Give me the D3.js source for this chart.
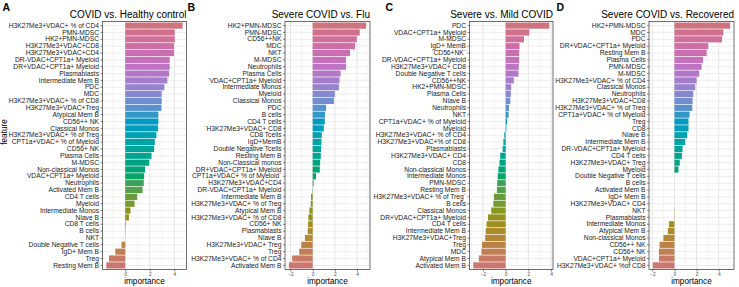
<!DOCTYPE html>
<html>
<head>
<meta charset="utf-8">
<script src="https://cdn.jsdelivr.net/npm/d3@7"></script>
<style>
  body { margin: 0; background: #fff; }
  svg { display: block; font-family: "Liberation Sans", Arial, sans-serif; }
</style>
</head>
<body>
<svg width="739" height="287"></svg>
<script>
// Panel A: COVID vs. Healthy control
var featuresA = ["H3K27Me3+VDAC+ % of CD4", "PMN-MDSC", "HK2+PMN-MDSC", "H3K27Me3+VDAC+CD8", "H3K27Me3+VDAC+CD4",
  "DR-VDAC+CPT1a+ Myeloid", "DR+VDAC+CPT1a+ Myeloid", "Plasmablasts", "Intermediate Mem B", "PDC", "MDC",
  "H3K27Me3+VDAC+ % of CD8", "H3K27Me3+VDAC+Treg", "Atypical Mem B", "CD56++ NK", "Classical Monos",
  "H3K27Me3+VDAC+ % of Treg", "CPT1a+VDAC+ % of Myeloid", "CD56+ NK", "Plasma Cells", "M-MDSC",
  "Non-classical Monos", "VDAC+CPT1a+ Myeloid", "Neutrophils", "Activated Mem B", "CD4 T cells", "Myeloid",
  "Intermediate Monos", "Niave B", "CD8 T cells", "B cells", "NKT", "Double Negative T cells", "IgD+ Mem B",
  "Treg", "Resting Mem B"];
var importanceA = [4.68, 4.03, 4.03, 3.97, 3.97, 3.62, 3.62, 3.57, 3.43, 3.19, 2.97, 2.97, 2.95, 2.70, 2.70, 2.68,
  2.54, 2.41, 2.35, 2.14, 1.95, 1.62, 1.54, 1.51, 1.41, 0.97, 0.76, 0.43, 0.30, 0.05, 0.03, 0.01, -0.30, -0.81,
  -1.32, -1.54];

// Panel B: Severe COVID vs. Flu
var featuresB = ["HK2+PMN-MDSC", "PMN-MDSC", "CD56++NK", "MDC", "NKT", "M-MDSC", "Neutrophils", "Plasma Cells",
  "`VDAC+CPT1a+ Myeloid", "Intermediate Monos", "Myeloid", "Classical Monos", "PDC", "B cells", "CD4 T cells",
  "`H3K27Me3+VDAC+ CD8", "CD8 Tcells", "IgD+MemB", "Double Negative Tcells", "Resting Mem B",
  "Non-Classical  monos", "DR+VDAC+CPT1a+ Myeloid", "CPT1a+VDAC+ % of Myeloid`", "H3K27Me3+VDAC+CD4",
  "DR-VDAC+CPT1a+ Myeloid", "Intermediate Mem B", "H3K27Me3+VDAC+ % of Treg", "Atypical Mem B",
  "H3K27Me3+VDAC+ % of CD8", "CD56+ NK", "Plasmablasts", "Niave B", "H3K27Me3+VDAC+ Treg", "Treg",
  "H3K27Me3+VDAC+ % of CD4", "Activated Mem B"];
var importanceB = [4.82, 4.24, 3.97, 3.82, 3.36, 3.0, 3.0, 2.52, 2.42, 2.36, 2.0, 1.91, 1.21, 1.12, 1.09, 1.0,
  0.82, 0.79, 0.76, 0.73, 0.67, 0.64, 0.30, 0.09, 0.03, -0.15, -0.18, -0.30, -0.39, -0.42, -0.45, -0.70, -1.03,
  -1.21, -1.85, -2.15];

// Panel C: Severe vs. Mild COVID
var featuresC = ["PDC", "VDAC+CPT1a+ Myeloid", "M-MDSC", "IgD+ MemB", "`CD56+NK`", "DR-VDAC+CPT1a+ Myeloid",
  "H3K27Me3+VDAC+ CD8", "Double Negative T cells", "CD56++NK", "HK2+PMN-MDSC", "Plasma Cells", "Niave B",
  "Neutrophils", "NKT", "CPT1a+VDAC+ % of Myeloid", "Myeloid", "H3K27Me3+VDAC+ % of CD4",
  "H3K27Me3+VDAC+% of CD8", "Plasmablasts", "H3K27Me3+VDAC+ CD4", "CD8", "Non-classical Monos",
  "Intermediate Monos", "PMN-MDSC", "Resting Mem B", "H3K27Me3+VDAC+ % of Treg`", "B cells", "Classical Monos",
  "DR+VDAC+CPT1a+ Myeloid", "CD4 T cells", "Intermediate Mem B", "H3K27Me3+VDAC+Treg", "Treg", "MDC",
  "Atypical Mem B", "Activated Mem B"];
var importanceC = [3.84, 2.09, 1.62, 1.22, 1.19, 1.19, 1.16, 1.13, 0.72, 0.49, 0.46, 0.41, 0.29, 0.26, 0.12, 0.06,
  -0.12, -0.20, -0.26, -0.48, -0.54, -0.64, -0.70, -0.74, -0.77, -1.03, -1.08, -1.27, -1.55, -1.68, -1.75, -1.80,
  -2.08, -2.13, -2.36, -2.85];

// Panel D: Severe COVID vs. Recovered
var featuresD = ["HK2+PMN-MDSC", "MDC", "PDC", "DR+VDAC+CPT1a+ Myeloid", "Resting Mem B", "Plasma Cells",
  "PMN-MDSC", "M-MDSC", "H3K27Me3+VDAC+ % of CD4", "Classical Monos", "Neutrophils", "H3K27Me3+VDAC+CD8",
  "H3K27Me3+VDAC+ % of Treg", "CPT1a+VDAC+ % of Myeloid", "Treg", "CD8", "Niave B", "Intermediate Mem B",
  "DR-VDAC+CPT1a+ Myeloid", "CD4 T cells", "H3K27Me3+VDAC+ Treg", "Myeloid", "Double Negative T cells",
  "B cells", "Activated Mem B", "IgD+ Mem B", "H3K27Me3+VDAC+ CD4", "NKT", "Plasmablasts", "Intermediate Monos",
  "Atypical Mem B", "Non-classical Monos", "CD56++ NK", "CD56+ NK", "VDAC+CPT1a+ Myeloid",
  "H3K27Me3+VDAC+ %of CD8"];
var importanceD = [5.03, 4.42, 4.30, 3.06, 2.91, 2.58, 2.45, 2.24, 2.0, 1.88, 1.70, 1.64, 1.61, 1.36, 1.27, 1.27,
  1.15, 0.97, 0.73, 0.67, 0.48, 0.36, 0, 0, 0, 0, 0, 0.02, -0.03, -0.50, -0.60, -1.0, -1.34, -1.40, -1.40, -1.95];

var titles = ["COVID vs. Healthy control", "Severe COVID vs. Flu", "Severe vs. Mild COVID", "Severe COVID vs. Recovered"];
var letters = ["A", "B", "C", "D"];

var panels = [
  {features: featuresA, values: importanceA, left: 102.5, right: 186.5, tag: 2.5, yTitle: true},
  {features: featuresB, values: importanceB, left: 285, right: 370, tag: 187.5},
  {features: featuresC, values: importanceC, left: 469.5, right: 553, tag: 385.5},
  {features: featuresD, values: importanceD, left: 649, right: 734, tag: 556.5}
];

// polar LUV -> hex, the way R's hcl() builds the default hue palette
function hclLuv(h, c, l) {
  var hr = h * Math.PI / 180,
    u = c * Math.cos(hr), v = c * Math.sin(hr);
  var xn = 95.047, yn = 100, zn = 108.883,
    un = 4 * xn / (xn + 15 * yn + 3 * zn), vn = 9 * yn / (xn + 15 * yn + 3 * zn);
  var Y = l > 8 ? Math.pow((l + 16) / 116, 3) : l / 903.3;
  var up = u / (13 * l) + un, vp = v / (13 * l) + vn;
  var X = Y * 9 * up / (4 * vp), Z = Y * (12 - 3 * up - 20 * vp) / (4 * vp);
  var lin = [
    3.2406 * X - 1.5372 * Y - 0.4986 * Z,
    -0.9689 * X + 1.8758 * Y + 0.0415 * Z,
    0.0557 * X - 0.2040 * Y + 1.0570 * Z
  ];
  var rgb = lin.map(function(t) {
    t = t <= 0.0031308 ? 12.92 * t : 1.055 * Math.pow(t, 1 / 2.4) - 0.055;
    return Math.max(0, Math.min(255, Math.round(t * 255)));
  });
  return d3.rgb(rgb[0], rgb[1], rgb[2]).formatHex();
}

var svg = d3.select("svg"),
  plotTop = 21.5,
  plotBottom = 269.5;

panels.forEach(function(p, k) {
  var n = p.features.length;
  var ext = d3.extent(p.values),
    pad = (ext[1] - ext[0]) * 0.05;

  var xScale = d3.scaleLinear().domain([ext[0] - pad, ext[1] + pad]).range([p.left, p.right]);
  var yScale = d3.scaleBand().domain(p.features).range([plotTop, plotBottom]).paddingInner(0.1).paddingOuter(0.15);

  // hue palette, first level at the bottom
  var colour = function(i) {
    return hclLuv(15 + 360 * (n - 1 - i) / n, 62, 59);
  };

  var g = svg.append("g");

  // grid: majors on even numbers, minors in between
  var lo = Math.ceil(xScale.domain()[0]), hi = Math.floor(xScale.domain()[1]);
  var majors = d3.range(lo, hi + 1).filter(t => t % 2 == 0);
  var minors = d3.range(lo, hi + 1).filter(t => Math.abs(t % 2) == 1);

  g.selectAll(".minor").data(minors).enter().append("line")
    .attr("x1", d => xScale(d)).attr("x2", d => xScale(d))
    .attr("y1", plotTop).attr("y2", plotBottom)
    .attr("stroke", "#ececec").attr("stroke-width", 0.6);
  g.selectAll(".major").data(majors).enter().append("line")
    .attr("x1", d => xScale(d)).attr("x2", d => xScale(d))
    .attr("y1", plotTop).attr("y2", plotBottom)
    .attr("stroke", "#e4e4e4").attr("stroke-width", 1);
  g.selectAll(".hgrid").data(p.features).enter().append("line")
    .attr("x1", p.left).attr("x2", p.right)
    .attr("y1", d => yScale(d) + yScale.bandwidth() / 2)
    .attr("y2", d => yScale(d) + yScale.bandwidth() / 2)
    .attr("stroke", "#e8e8e8").attr("stroke-width", 0.8);

  // bars
  g.selectAll(".bar").data(p.values).enter().append("rect")
    .attr("x", d => xScale(Math.min(0, d)))
    .attr("y", (d, i) => yScale(p.features[i]))
    .attr("width", d => Math.abs(xScale(d) - xScale(0)))
    .attr("height", yScale.bandwidth())
    .attr("fill", (d, i) => colour(i));

  // border
  g.append("rect")
    .attr("x", p.left).attr("y", plotTop)
    .attr("width", p.right - p.left).attr("height", plotBottom - plotTop)
    .attr("fill", "none").attr("stroke", "#333").attr("stroke-width", 0.7);

  // axes
  var yAxis = g.append("g")
    .attr("transform", "translate(" + p.left + ",0)")
    .call(d3.axisLeft(yScale).tickSize(2).tickPadding(1.5));
  yAxis.select(".domain").remove();
  yAxis.selectAll("line").attr("stroke", "#333").attr("stroke-width", 0.6);
  yAxis.selectAll("text").attr("font-size", 6.7).attr("fill", "#1a1a1a")
    .attr("font-family", "Liberation Sans, Arial, sans-serif");

  var xAxis = g.append("g")
    .attr("transform", "translate(0," + plotBottom + ")")
    .call(d3.axisBottom(xScale).tickValues(majors).tickFormat(d3.format("d")).tickSize(2).tickPadding(1.5));
  xAxis.select(".domain").remove();
  xAxis.selectAll("line").attr("stroke", "#333").attr("stroke-width", 0.6);
  xAxis.selectAll("text").attr("font-size", 4.8).attr("fill", "#4d4d4d")
    .attr("font-family", "Liberation Sans, Arial, sans-serif");

  g.append("text")
    .attr("x", (p.left + p.right) / 2).attr("y", 283.5)
    .attr("text-anchor", "middle").attr("font-size", 8.2)
    .text("importance");

  g.append("text")
    .attr("x", p.right).attr("y", 18.3)
    .attr("text-anchor", "end").attr("font-size", 10)
    .text(titles[k]);

  g.append("text")
    .attr("x", p.tag).attr("y", 11)
    .attr("font-size", 10.5).attr("font-weight", "bold")
    .text(letters[k]);

  if (p.yTitle) {
    g.append("text")
      .attr("transform", "translate(7,132) rotate(-90)")
      .attr("text-anchor", "middle").attr("font-size", 8.2)
      .text("feature");
  }
});
</script>
</body>
</html>
